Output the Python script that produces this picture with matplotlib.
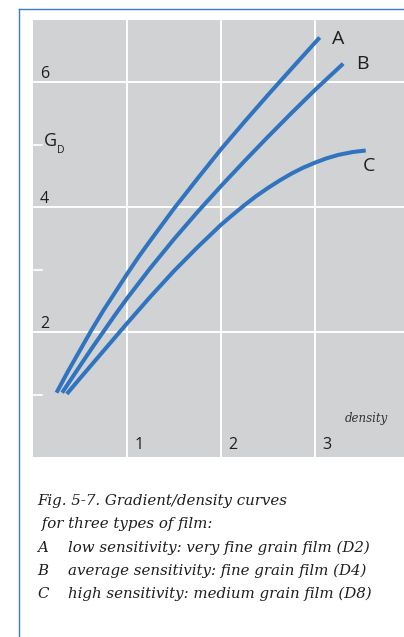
import matplotlib
matplotlib.use('Agg')
import matplotlib.pyplot as plt
from matplotlib.lines import Line2D

density_a = [0.25, 0.375, 0.5, 0.625, 0.75, 0.875, 1.0, 1.125, 1.25, 1.5, 1.75, 2.0,
             2.25, 2.5, 2.75, 3.05]
gradient_a = [1.03, 1.38, 1.71, 2.04, 2.35, 2.64, 2.93, 3.21, 3.47, 3.98, 4.46, 4.93,
              5.37, 5.80, 6.22, 6.72]

density_b = [0.31, 0.5, 0.625, 0.75, 0.875, 1.0, 1.25, 1.5, 1.75, 2.0, 2.25, 2.5, 2.75,
             3.0, 3.3]
gradient_b = [1.03, 1.46, 1.74, 2.01, 2.28, 2.54, 3.03, 3.49, 3.925, 4.34, 4.74, 5.13,
              5.51, 5.88, 6.30]

density_c = [0.36, 0.5, 0.75, 1.0, 1.25, 1.5, 1.75, 2.0, 2.125, 2.25, 2.375, 2.5,
             2.625, 2.75, 2.875, 3.0, 3.125, 3.25, 3.4, 3.54]
gradient_c = [1.01, 1.26, 1.70, 2.14, 2.57, 2.98, 3.36, 3.72, 3.88, 4.035, 4.18, 4.31,
              4.43, 4.54, 4.635, 4.715, 4.785, 4.84, 4.885, 4.91]

x_ticks = [1, 2, 3]
y_ticks = [2, 4, 6]
y_minor = [1, 3, 5]

caption = [
    ('', 'Fig. 5-7. Gradient/density curves'),
    ('', ' for three types of film:'),
    ('A', 'low sensitivity: very fine grain film (D2)'),
    ('B', 'average sensitivity: fine grain film (D4)'),
    ('C', 'high sensitivity: medium grain film (D8)'),
]

W, H = 404, 637
blue = '#3074c0'
grey = '#d1d2d4'
ink = '#1e1e1e'
sans = ['Open Sans', 'DejaVu Sans']
serif = ['DejaVu Serif']


def fx(px):
    return px / W


def fy(py):
    return 1 - py / H


fig = plt.figure(figsize=(W / 100, H / 100), dpi=100)
ax = fig.add_axes([fx(33), fy(457), fx(404 - 33), (457 - 20) / H])
ax.set_facecolor(grey)
ax.set_xlim(0, (404 - 33) / 94)
ax.set_ylim(0, 7)
for s in ax.spines.values():
    s.set_visible(False)
ax.set_xticks([])
ax.set_yticks([])

# white grid
for x in x_ticks:
    ax.axvline(x, color='white', lw=1.4, zorder=1)
    ax.text(x + 0.075, 0.13, str(x), fontsize=11.5, family=sans, color=ink,
            ha='left', va='baseline')
for y in y_ticks:
    ax.axhline(y, color='white', lw=1.4, zorder=1)
    ax.text(0.075, y + 0.07, str(y), fontsize=11.5, family=sans, color=ink,
            ha='left', va='baseline')
for y in y_minor:
    ax.plot([0, 0.1], [y, y], color='white', lw=1.2, zorder=1)

ax.plot(density_a, gradient_a, color=blue, lw=2.9, solid_capstyle='butt', zorder=3)
ax.plot(density_b, gradient_b, color=blue, lw=2.9, solid_capstyle='butt', zorder=3)
ax.plot(density_c, gradient_c, color=blue, lw=2.9, solid_capstyle='butt', zorder=3)

# curve names
fig.text(fx(332), fy(44), 'A', fontsize=14, family=sans, color=ink, va='baseline')
fig.text(fx(356), fy(69), 'B', fontsize=14, family=sans, color=ink, va='baseline')
fig.text(fx(363), fy(171), 'C', fontsize=14, family=sans, color=ink, va='baseline')

# axis names
fig.text(fx(44), fy(146.5), 'G', fontsize=13, family=sans, color=ink, va='baseline')
fig.text(fx(57), fy(153), 'D', fontsize=7.5, family=sans, color=ink, va='baseline')
fig.text(fx(345), fy(422), 'density', fontsize=8.5, family=serif, style='italic',
         color='#333333', va='baseline')

# caption under the chart
base = 505
for key, line in caption:
    if key:
        fig.text(fx(37), fy(base), key, fontsize=10.8, family=serif, style='italic',
                 color=ink, va='baseline')
        fig.text(fx(68), fy(base), line, fontsize=10.8, family=serif, style='italic',
                 color=ink, va='baseline')
    else:
        fig.text(fx(37), fy(base), line, fontsize=10.8, family=serif, style='italic',
                 color=ink, va='baseline')
    base += 23.3

# blue frame, top and left
fig.add_artist(Line2D([fx(19), 1], [fy(9), fy(9)], color='#3a7bc8', lw=1))
fig.add_artist(Line2D([fx(19), fx(19)], [fy(9), 0], color='#3a7bc8', lw=1))

fig.savefig('out.png', dpi=100)
